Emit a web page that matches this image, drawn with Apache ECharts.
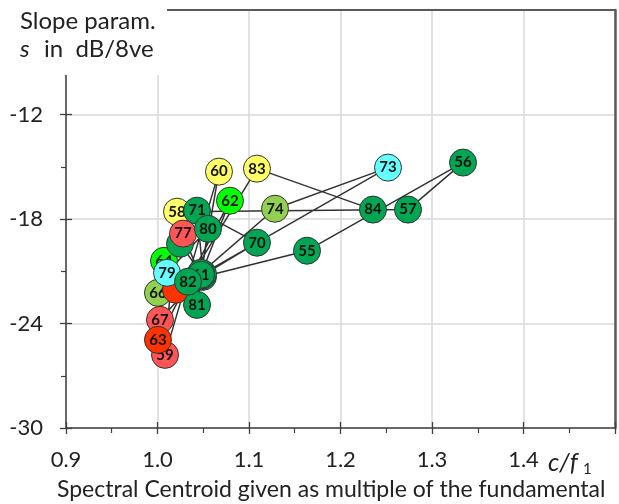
<!DOCTYPE html>
<html>
<head>
<meta charset="utf-8">
<script src="https://cdn.jsdelivr.net/npm/echarts@6/dist/echarts.min.js"></script>
<style>
html,body{margin:0;padding:0;background:#fff;}
#chart{width:619px;height:504px;}
</style>
</head>
<body>
<div id="chart"></div>
<script>
// Note labels (order of the connecting line)
const labels = ['54','55','56','57','58','59','60','61','62','63','64','65','66','67','68','69','70','71','72','73','74','75','76','77','78','79','80','81','82','83','84'];
// Spectral centroid c/f1
const xs = [1.0497,1.1634,1.3339,1.2738,1.0213,1.0082,1.0672,1.0475,1.0792,1.0005,1.0071,1.0202,1.0005,1.0027,1.0454,1.0486,1.1087,1.0432,1.0497,1.2519,1.1284,1.0475,1.0246,1.0279,1.0464,1.0104,1.0552,1.0432,1.0333,1.1087,1.2355];
// Slope parameter s (dB/8ve)
const ys = [-21.32,-19.82,-14.76,-17.46,-17.58,-25.80,-15.28,-21.20,-16.95,-24.94,-20.40,-22.06,-22.24,-23.79,-21.32,-21.26,-19.36,-17.52,-21.14,-15.05,-17.41,-21.09,-19.42,-18.84,-21.26,-21.09,-18.56,-22.93,-21.60,-15.11,-17.46];
// Colour group of each point
const groups = ['G','G','G','G','Y','R','Y','G','B','X','B','X','O','R','G','G','G','G','G','C','O','G','G','R','G','C','G','G','G','Y','G'];
// Stacking order of the circles (first drawn = bottom)
const drawOrder = ['54','55','56','57','58','59','60','62','64','66','65','67','63','68','69','70','71','72','73','74','75','76','77','78','61','79','80','81','82','83','84'];
// Points whose number is covered in the picture
const coveredLabels = ['54','65','68','69','72','75','76','78'];
// Axis tick values
const xTicks = [0.9,1.0,1.1,1.2,1.3,1.4];
const yTicks = [-12,-18,-24,-30];

const palette = {G:'#00a651', Y:'#ffff66', B:'#00ff00', O:'#92d050', C:'#66ffff', R:'#ff5555', X:'#ff3300'};
const FONT = 'Lato';

const lineData = labels.map((l,i)=>[xs[i], ys[i]]);
const pointSeries = drawOrder.map((l,k)=>{
  const i = labels.indexOf(l);
  return {
    type:'scatter', xAxisIndex:0, yAxisIndex:0, z:10+k, silent:true,
    symbol:'circle', symbolSize:27,
    data:[{name:l, value:[xs[i], ys[i]]}],
    itemStyle:{color:palette[groups[i]], borderColor:'#333', borderWidth:1, opacity:1},
    label:{show:coveredLabels.indexOf(l)<0, position:'inside', formatter:'{b}', fontFamily:FONT, fontWeight:'bold', fontSize:15, color:'#111'},
    emphasis:{disabled:true}
  };
});

const axisColor = '#404040';
const chart = echarts.init(document.getElementById('chart'), null, {renderer:'canvas'});
chart.setOption({
  animation:false,
  backgroundColor:'#fff',
  grid:{left:66, right:4, top:10, bottom:76, containLabel:false},
  xAxis:[{
    type:'value', min:0.9, max:1.5, interval:0.1, position:'bottom',
    axisLine:{lineStyle:{color:axisColor, width:1.5}},
    axisTick:{length:6, lineStyle:{color:axisColor, width:1.3}},
    minorTick:{show:true, splitNumber:2, length:5, lineStyle:{color:axisColor, width:1.2}},
    splitLine:{show:true, lineStyle:{color:'#d9d9d9', width:1.5}},
    axisLabel:{
      formatter:v=>{ const t = xTicks.find(k=>Math.abs(k-v)<1e-6); return t===undefined?'':t.toFixed(1); },
      fontFamily:FONT, fontSize:22, color:'#222', margin:21
    }
  },{
    type:'value', min:0.9, max:1.5, interval:0.1, position:'bottom',
    axisLine:{show:false}, axisLabel:{show:false}, splitLine:{show:false},
    axisTick:{inside:true, length:6, lineStyle:{color:axisColor, width:1.3}}
  },{
    type:'value', min:0.9, max:1.5, interval:0.1, position:'top',
    axisLine:{lineStyle:{color:'#5a5a5a', width:2}}, axisLabel:{show:false}, splitLine:{show:false}, axisTick:{show:false}
  }],
  yAxis:[{
    type:'value', min:-30, max:-6, interval:6, position:'left',
    axisLine:{lineStyle:{color:axisColor, width:1.5}},
    axisTick:{length:6, lineStyle:{color:axisColor, width:1.3}},
    minorTick:{show:true, splitNumber:2, length:5, lineStyle:{color:axisColor, width:1.2}},
    splitLine:{show:true, lineStyle:{color:'#d9d9d9', width:1.5}},
    axisLabel:{
      formatter:v=>{ const t = yTicks.find(k=>Math.abs(k-v)<1e-6); return t===undefined?'':String(t); },
      fontFamily:FONT, fontSize:22, color:'#222', margin:23
    }
  },{
    type:'value', min:-30, max:-6, interval:6, position:'left',
    axisLine:{show:false}, axisLabel:{show:false}, splitLine:{show:false},
    axisTick:{inside:true, length:6, lineStyle:{color:axisColor, width:1.3}}
  },{
    type:'value', min:-30, max:-6, interval:6, position:'right',
    axisLine:{lineStyle:{color:'#5a5a5a', width:2.5}}, axisLabel:{show:false}, splitLine:{show:false}, axisTick:{show:false}
  }],
  series:[{
    type:'line', xAxisIndex:0, yAxisIndex:0, data:lineData, symbol:'none', silent:true, z:2,
    lineStyle:{color:'#333', width:1.5}
  }].concat(pointSeries),
  graphic:[
    {type:'rect', left:0, top:0, z:100, shape:{width:167, height:75}, style:{fill:'#fff'}},
    {type:'text', left:20, top:9, z:101, style:{text:'Slope param.', font:'24px '+FONT, fill:'#222'}},
    {type:'text', left:20, top:37, z:101, style:{text:'s', font:'italic 24px '+FONT, fill:'#222'}},
    {type:'text', left:44, top:37, z:101, style:{text:'in  dB/8ve', font:'24px '+FONT, fill:'#222'}},
    {type:'text', left:548, top:450, z:101, style:{text:'c/f', font:'italic 25px '+FONT, fill:'#222'}},
    {type:'text', left:583, top:462, z:101, style:{text:'1', font:'15px '+FONT, fill:'#222'}},
    {type:'text', left:57, top:478, z:101, style:{text:'Spectral Centroid given as multiple of the fundamental', font:'23px '+FONT, fill:'#222'}}
  ]
});
</script>
</body>
</html>
